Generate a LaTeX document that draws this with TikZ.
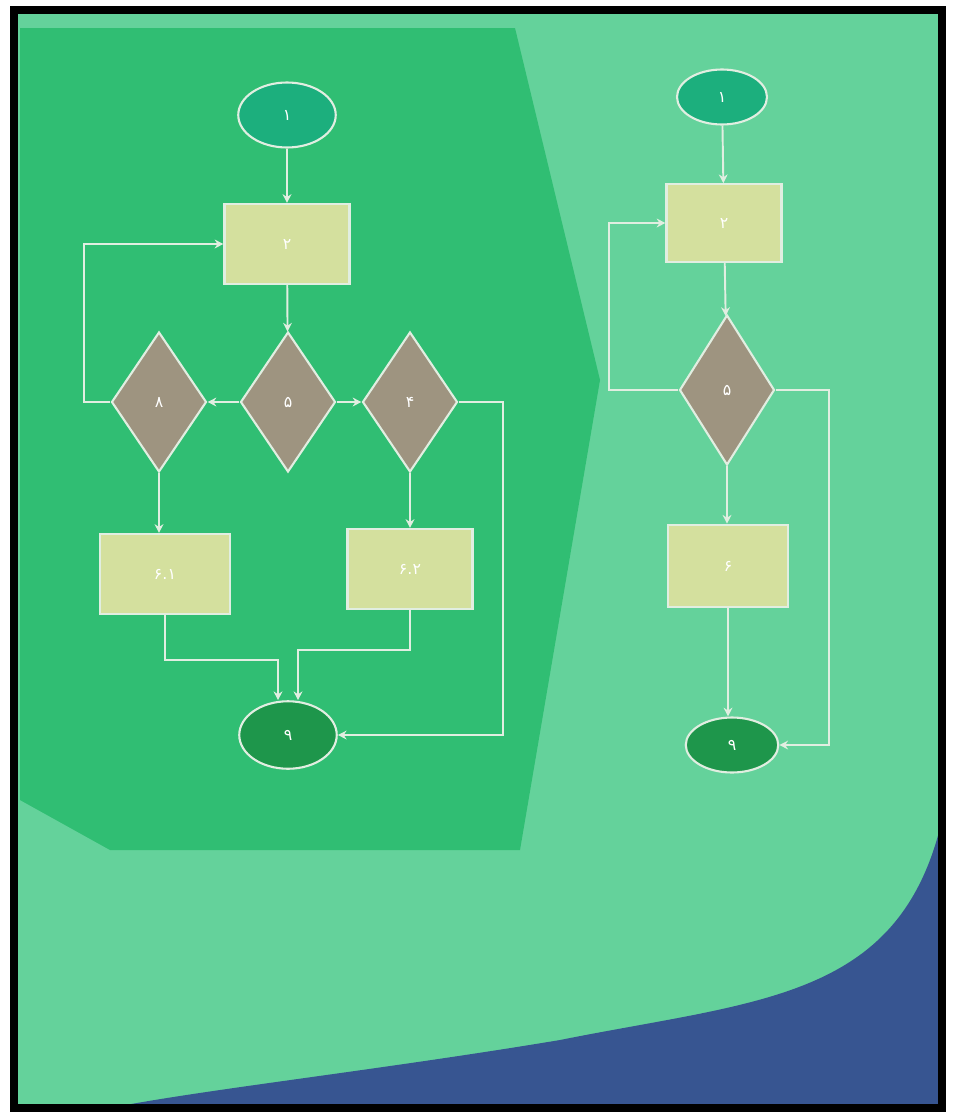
\documentclass[tikz,border=0pt]{standalone}
\usepackage{fontspec}
\newfontfamily\fafont[Script=Arabic]{DejaVu Sans}
\usetikzlibrary{shapes.geometric, arrows.meta, positioning}
\definecolor{bgclr}{RGB}{100,210,155}
\definecolor{panelclr}{RGB}{48,190,115}
\definecolor{cornerclr}{RGB}{55,85,145}
\definecolor{lineclr}{RGB}{225,238,225}
\definecolor{startclr}{RGB}{28,175,125}
\definecolor{endclr}{RGB}{30,150,75}
\definecolor{procclr}{RGB}{212,224,158}
\definecolor{decclr}{RGB}{158,148,128}

\begin{document}
\begin{tikzpicture}[x=0.02cm, y=-0.02cm, font=\fafont\small,
    term/.style={draw=lineclr, ellipse, line width=1.2pt, fill=startclr, text=white,
        minimum width=1.95cm, minimum height=1.3cm},
    fin/.style={term, fill=endclr, minimum width=1.95cm, minimum height=1.35cm},
    proc/.style={draw=lineclr, line width=1.2pt, fill=procclr, text=white,
        minimum width=2.5cm, minimum height=1.6cm},
    dec/.style={draw=lineclr, diamond, line width=1.2pt, fill=decclr, text=white,
        minimum width=1.9cm, minimum height=2.8cm, inner sep=0pt},
    flow/.style={draw=lineclr, line width=1.1pt, -{Stealth[length=5pt,width=5pt]}}
]
    % photo background
    \useasboundingbox (0,0) rectangle (954,1119);
    \fill[white] (0,0) rectangle (954,1119);
    \fill[bgclr] (14,10) rectangle (942,1108);
    \fill[panelclr] (20,28) -- (515,28) -- (600,380) -- (520,850) -- (110,850) -- (20,800) -- cycle;
    \fill[cornerclr] (942,820) .. controls (900,1000) and (760,1000) .. (560,1040)
        .. controls (380,1070) and (200,1090) .. (110,1108) -- (942,1108) -- cycle;
    \draw[black, line width=4pt] (14,10) rectangle (942,1108);

    % left chart
    \node[term] (ls) at (287,115) {۱};
    \node[proc] (lp1) at (287,244) {۲};
    \node[dec] (ld2) at (288,402) {۵};
    \node[dec] (ld1) at (159,402) {۸};
    \node[dec] (ld3) at (410,402) {۴};
    \node[proc, minimum width=2.6cm] (lp2) at (165,574) {۶.۱};
    \node[proc] (lp3) at (410,569) {۶.۲};
    \node[fin] (le) at (288,735) {۹};
    \coordinate (lj1) at (278,660);
    \coordinate (lj2) at (298,650);

    \draw[flow] (ls) -- (lp1);
    \draw[flow] (lp1) -- (ld2);
    \draw[flow] (ld2.west) -- (ld1.east);
    \draw[flow] (ld2.east) -- (ld3.west);
    \draw[flow] (ld1.west) -- ++(-26,0) |- (lp1.west);
    \draw[flow] (ld1.south) -- (ld1.south |- lp2.north);
    \draw[flow] (ld3.south) -- (lp3.north);
    \draw[flow] (lp2.south) |- (lj1) -- (lj1 |- le.north);
    \draw[flow] (lp3.south) |- (lj2) -- (lj2 |- le.north);
    \draw[flow] (ld3.east) -- ++(44,0) |- (le.east);

    % right chart
    \node[term, minimum width=1.8cm, minimum height=1.1cm] (rs) at (722,97) {۱};
    \node[proc, minimum width=2.3cm, minimum height=1.55cm] (rp1) at (724,223) {۲};
    \node[dec, minimum height=3cm] (rd) at (727,390) {۵};
    \node[proc, minimum width=2.4cm, minimum height=1.65cm] (rp2) at (728,566) {۶};
    \node[fin, minimum width=1.85cm, minimum height=1.1cm] (re) at (732,745) {۹};

    \draw[flow] (rs) -- (rp1);
    \draw[flow] (rp1) -- (rd);
    \draw[flow] (rd.west) -- ++(-69,0) |- (rp1.west);
    \draw[flow] (rd.south) -- (rd.south |- rp2.north);
    \draw[flow] (rp2.south) -- (rp2.south |- re.north);
    \draw[flow] (rd.east) -- ++(53,0) |- (re.east);
\end{tikzpicture}
\end{document}
